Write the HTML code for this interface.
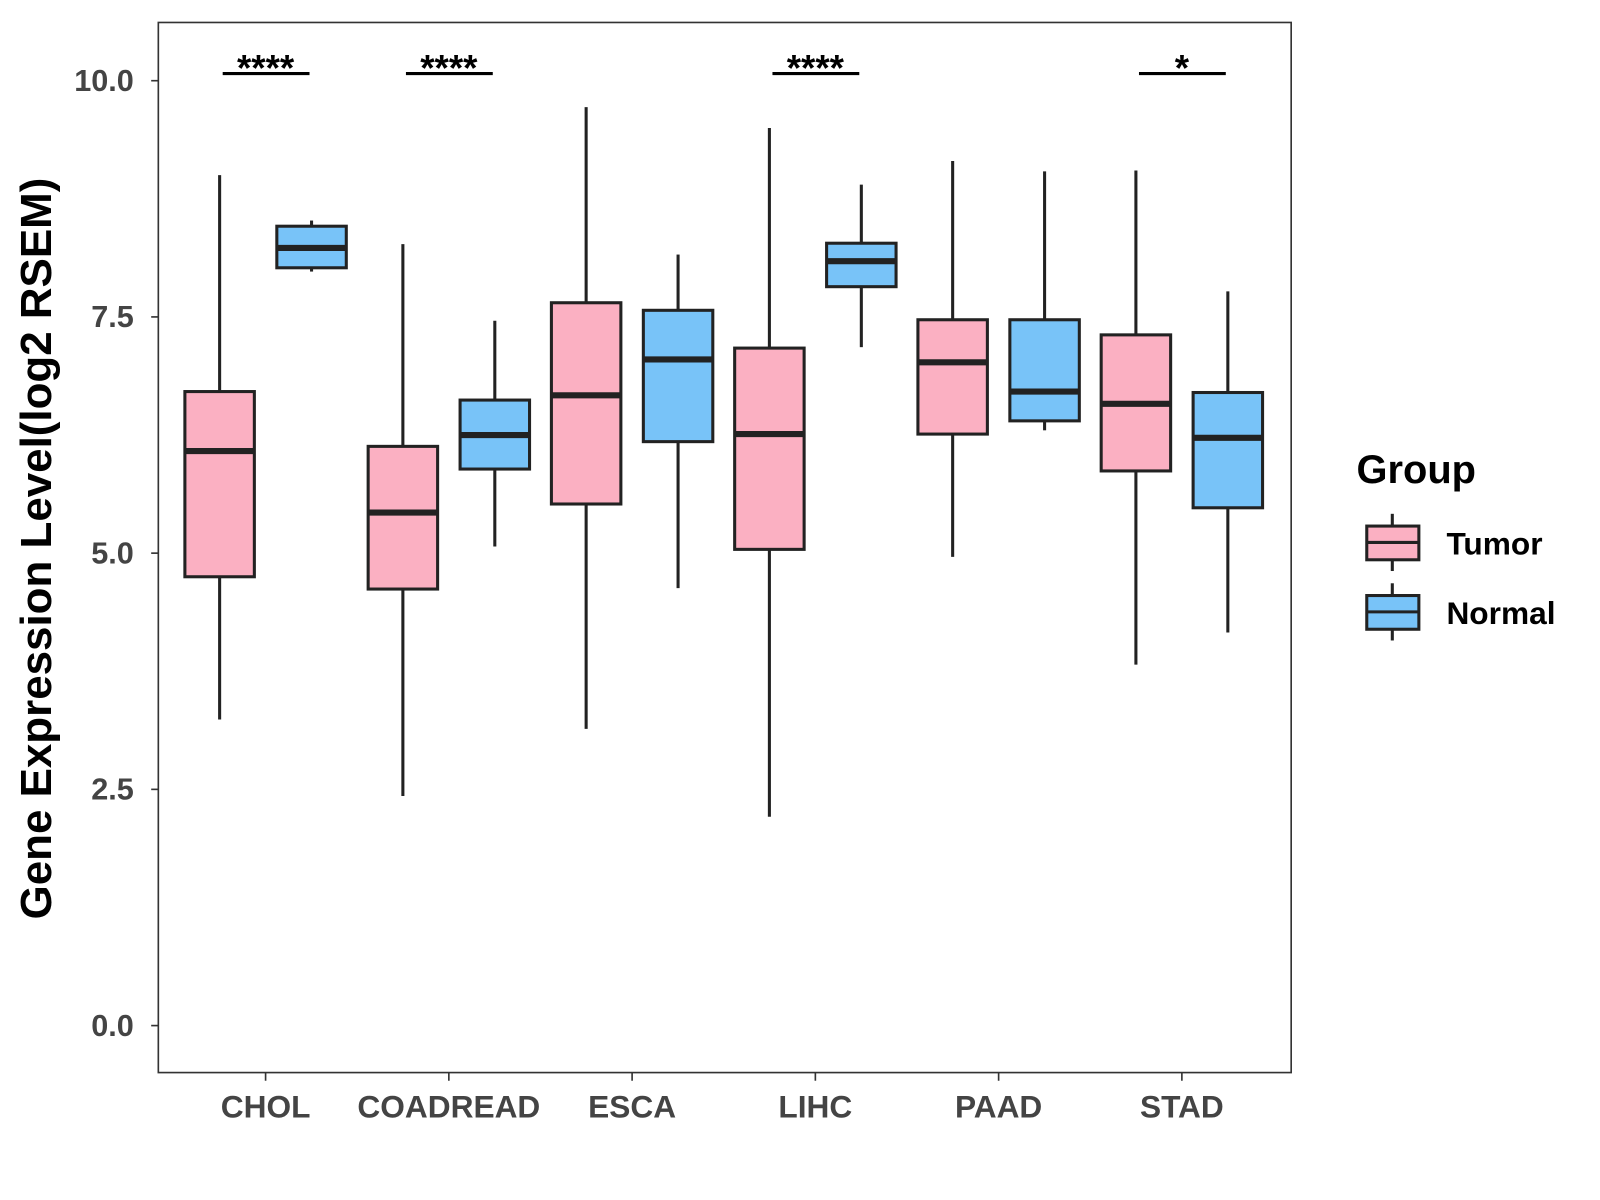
<!DOCTYPE html>
<html><head><meta charset="utf-8"><style>
html,body{margin:0;padding:0;background:#fff;}
svg{display:block;font-family:"Liberation Sans",Arial,sans-serif;}
</style></head><body>
<svg id="chart" width="1600" height="1200" viewBox="0 0 1600 1200">
<rect x="0" y="0" width="1600" height="1200" fill="#fff"/>
<g transform="scale(1.0215)">
<g id="plot"></g>
<rect x="155" y="22" width="1109" height="1028" fill="none" stroke="#333" stroke-width="1.6"/>
<text transform="translate(50,537) rotate(-90)" text-anchor="middle" font-size="43" font-weight="bold" fill="#000">Gene Expression Level(log2 RSEM)</text>
<g>
<text x="1328" y="473" font-size="39" font-weight="bold" fill="#000">Group</text>
<g>
<line x1="1363" y1="503" x2="1363" y2="559" stroke="#222" stroke-width="3"/>
<rect x="1338" y="515" width="51" height="33" fill="#FBB0C2" stroke="#222" stroke-width="3"/>
<line x1="1338" y1="531" x2="1389" y2="531" stroke="#222" stroke-width="3"/>
<text x="1416" y="543" font-size="31" font-weight="bold" fill="#000">Tumor</text>
</g>
<g>
<line x1="1363" y1="571" x2="1363" y2="627" stroke="#222" stroke-width="3"/>
<rect x="1338" y="583" width="51" height="33" fill="#78C3F8" stroke="#222" stroke-width="3"/>
<line x1="1338" y1="599" x2="1389" y2="599" stroke="#222" stroke-width="3"/>
<text x="1416" y="611" font-size="31" font-weight="bold" fill="#000">Normal</text>
</g>
</g>
</g>
</svg>
<script>
const categories = ["CHOL","COADREAD","ESCA","LIHC","PAAD","STAD"];
// [low, q1, median, q3, high]
const tumorStats = [
 [3.24,4.75,6.08,6.71,9.0],
 [2.43,4.62,5.43,6.13,8.27],
 [3.14,5.52,6.67,7.65,9.72],
 [2.21,5.04,6.26,7.17,9.5],
 [4.96,6.26,7.02,7.47,9.15],
 [3.82,5.87,6.58,7.31,9.05]
];
const normalStats = [
 [7.98,8.02,8.23,8.46,8.52],
 [5.07,5.89,6.25,6.62,7.46],
 [4.63,6.18,7.05,7.57,8.16],
 [7.18,7.82,8.09,8.28,8.9],
 [6.3,6.4,6.71,7.47,9.04],
 [4.16,5.48,6.22,6.7,7.77]
];
const significance = ["****","****","","****","","*"];
const yTicks = [0,2.5,5,7.5,10];
const yTickLabels = ["0.0","2.5","5.0","7.5","10.0"];

const NS="http://www.w3.org/2000/svg";
const g=document.getElementById('plot');
function yScale(v){return 1004-v*92.5;}
function xScale(i){return 260+i*179.4;}
function mk(tag,attrs,parent){const e=document.createElementNS(NS,tag);for(const k in attrs)e.setAttribute(k,attrs[k]);(parent||g).appendChild(e);return e;}

yTicks.forEach((t,i)=>{
  const y=yScale(t);
  const tk=mk('line',{x1:148,x2:155,y1:y,y2:y,stroke:'#333','stroke-width':1.6});
  
  
  const tx=mk('text',{x:131,y:y+10,'text-anchor':'end','font-size':30,'font-weight':'bold',fill:'#444'});
  tx.textContent=yTickLabels[i];
  
  
});

function drawBox(s,cx,fill,name){
  const grp=mk('g',{});
  
  
  mk('line',{x1:cx,x2:cx,y1:yScale(s[4]),y2:yScale(s[3]),stroke:'#222','stroke-width':3},grp);
  mk('line',{x1:cx,x2:cx,y1:yScale(s[1]),y2:yScale(s[0]),stroke:'#222','stroke-width':3},grp);
  mk('rect',{x:cx-34,y:yScale(s[3]),width:68,height:yScale(s[1])-yScale(s[3]),fill:fill,stroke:'#222','stroke-width':3},grp);
  mk('line',{x1:cx-34,x2:cx+34,y1:yScale(s[2]),y2:yScale(s[2]),stroke:'#222','stroke-width':6},grp);
}

categories.forEach((c,i)=>{
  const cx=xScale(i);
  drawBox(tumorStats[i],cx-45,'#FBB0C2','box-tumor-'+c.toLowerCase());
  drawBox(normalStats[i],cx+45,'#78C3F8','box-normal-'+c.toLowerCase());
  const tk=mk('line',{x1:cx,x2:cx,y1:1050,y2:1058,stroke:'#333','stroke-width':1.6});
  
  
  const tx=mk('text',{x:cx,y:1094,'text-anchor':'middle','font-size':31,'font-weight':'bold',fill:'#444'});
  tx.textContent=c;
  
  
  if(significance[i]){
    const sg=mk('g',{});
    
    
    mk('line',{x1:cx-42,x2:cx+43,y1:72,y2:72,stroke:'#000','stroke-width':3},sg);
    const st=mk('text',{x:cx,y:79,'text-anchor':'middle','font-size':36,'font-weight':'bold',fill:'#000'},sg);
    st.textContent=significance[i];
  }
});
</script>
</body></html>
